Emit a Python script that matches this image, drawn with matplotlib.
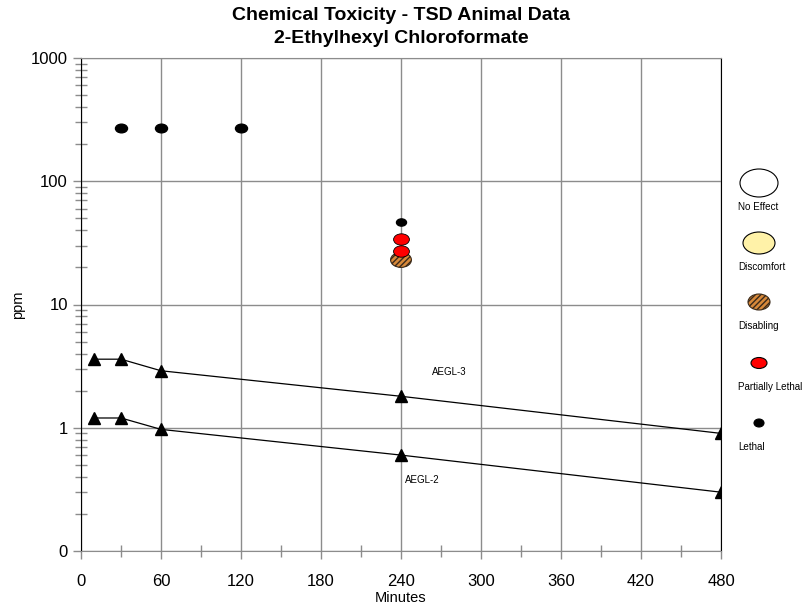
import numpy as np
import matplotlib
matplotlib.use("Agg")
import matplotlib.pyplot as plt
from matplotlib.path import Path
from matplotlib.markers import MarkerStyle
from matplotlib.transforms import Affine2D
from matplotlib.patches import Ellipse
from matplotlib.ticker import FixedLocator, LogLocator, NullFormatter

plt.rcParams['font.family'] = ['Liberation Sans', 'DejaVu Sans']

# AEGL curves (minutes, ppm)
aegl_times = [10, 30, 60, 240, 480]
aegl3 = [3.6, 3.6, 2.9, 1.8, 0.90]
aegl2 = [1.2, 1.2, 0.97, 0.60, 0.30]

# animal data points
lethal_t = [30, 60, 120, 240]
lethal_ppm = [270, 270, 270, 47]
plethal_t = [240, 240]
plethal_ppm = [34, 27]
disabling_t = [240]
disabling_ppm = [23]

legend_labels = ["No Effect", "Discomfort", "Disabling", "Partially Lethal", "Lethal"]
legend_colors = ["white", "#fff2a8", "#d8893a", "red", "black"]

x_ticks = [0, 60, 120, 180, 240, 300, 360, 420, 480]
y_ticks = [0.1, 1, 10, 100, 1000]
y_ticklabels = ["0", "1", "10", "100", "1000"]

# ellipse shaped marker
ell = Path.unit_circle().transformed(Affine2D().scale(1.0, 0.72))
ell_marker = MarkerStyle(ell)

fig = plt.figure(figsize=(8.06, 6.11), dpi=100)
ax = fig.add_axes([81 / 806, 60 / 611, 640 / 806, 493 / 611])

ax.set_yscale('log')
ax.set_xlim(0, 480)
ax.set_ylim(0.1, 1000)

ax.grid(True, which='major', color='#8c8c8c', lw=1.0)
ax.set_axisbelow(True)

ax.plot(aegl_times, aegl3, color='black', lw=0.9, marker='^', ms=8, zorder=3)
ax.plot(aegl_times, aegl2, color='black', lw=0.9, marker='^', ms=8, zorder=3)
ax.text(276, 2.85, "AEGL-3", fontsize=7, ha='center', va='center')
ax.text(256, 0.38, "AEGL-2", fontsize=7, ha='center', va='center')

ax.scatter(disabling_t, disabling_ppm, s=225, marker=ell_marker, facecolor='#d8893a',
           edgecolor='#3a2a1a', hatch='//////', lw=0.8, zorder=4)
ax.scatter(plethal_t, plethal_ppm, s=130, marker=ell_marker, facecolor='red',
           edgecolor='black', lw=0.6, zorder=5)
ax.scatter(lethal_t[:3], lethal_ppm[:3], s=75, marker=ell_marker, facecolor='black',
           edgecolor='black', zorder=6)
ax.scatter(lethal_t[3:], lethal_ppm[3:], s=52, marker=ell_marker, facecolor='black',
           edgecolor='black', zorder=6)

ax.set_xticks(x_ticks)
ax.set_xticklabels([str(t) for t in x_ticks])
ax.xaxis.set_minor_locator(FixedLocator(np.arange(30, 480, 60)))
ax.set_yticks(y_ticks)
ax.set_yticklabels(y_ticklabels)
ax.yaxis.set_minor_locator(LogLocator(base=10, subs=np.arange(2, 10)))
ax.yaxis.set_minor_formatter(NullFormatter())

ax.tick_params(axis='both', which='major', labelsize=12, color='#8c8c8c',
               length=6, width=1, direction='out')
ax.tick_params(axis='x', which='major', pad=10.5)
ax.tick_params(axis='both', which='minor', color='#8c8c8c', length=9,
               width=1, direction='inout')

for side in ['left', 'right']:
    ax.spines[side].set_color('black')
for side in ['top', 'bottom']:
    ax.spines[side].set_color('#8c8c8c')

ax.set_xlabel("Minutes", fontsize=10.5)
ax.xaxis.set_label_coords(0.5, -0.082)
ax.set_ylabel("ppm", fontsize=10.5)
ax.yaxis.set_label_coords(-0.088, 0.5)

fig.text(401 / 806, 1 - 27 / 611, "Chemical Toxicity - TSD Animal Data\n2-Ethylhexyl Chloroformate",
         ha='center', va='center', fontsize=14, fontweight='bold', linespacing=1.45)

# legend on the right, in pixel coordinates
lax = fig.add_axes([730 / 806, 0, 76 / 806, 1])
lax.set_xlim(730, 806)
lax.set_ylim(611, 0)
lax.axis('off')
leg_y = [183, 243, 302, 363, 423]
leg_w = [38, 32, 22, 16, 10]
leg_h = [28, 22, 16, 11, 8]
for i, lab in enumerate(legend_labels):
    kw = dict(facecolor=legend_colors[i], edgecolor='black', lw=0.8)
    if lab == "Disabling":
        kw['hatch'] = '//////'
        kw['edgecolor'] = '#3a2a1a'
    lax.add_patch(Ellipse((759, leg_y[i]), leg_w[i], leg_h[i], **kw))
    lax.text(738, leg_y[i] + 24, lab, fontsize=7.1, ha='left', va='center')

fig.savefig("out.png", dpi=100)
